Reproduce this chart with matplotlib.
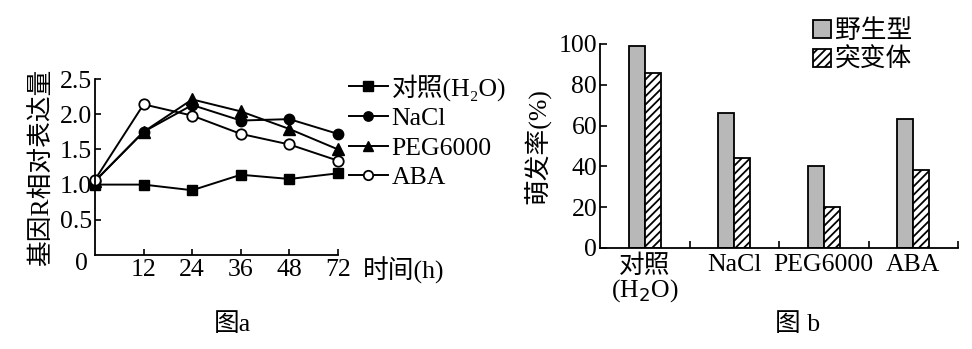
import matplotlib
matplotlib.use("Agg")
import matplotlib.pyplot as plt
import numpy as np

plt.rcParams['font.family'] = ['Liberation Serif', 'Noto Sans CJK SC']
plt.rcParams['hatch.linewidth'] = 1.3

# ---- data: panel a ----
time_labels = ['0', '12', '24', '36', '48', '72']
ctrl = [1.0, 1.0, 0.92, 1.14, 1.08, 1.16]
nacl = [1.05, 1.75, 2.13, 1.91, 1.93, 1.72]
peg = [1.05, 1.75, 2.21, 2.04, 1.79, 1.50]
aba = [1.07, 2.14, 1.98, 1.72, 1.57, 1.34]
series_names = ['对照(H₂O)', 'NaCl', 'PEG6000', 'ABA']

# ---- data: panel b ----
groups = ['对照\n(H$_2$O)', 'NaCl', 'PEG6000', 'ABA']
wild = [99, 66, 40, 63]
mutant = [86, 44, 20, 38]
bar_names = ['野生型', '突变体']

W, H = 972, 349
fig = plt.figure(figsize=(W / 100, H / 100), dpi=100)

def ax_at(l, r, t, b):
    return fig.add_axes([l / W, 1 - b / H, (r - l) / W, (b - t) / H])

fs = 18.5
# ---------- panel a ----------
axa = ax_at(95, 338, 79, 255)
x = np.arange(len(time_labels))
lw = 1.4
h1, = axa.plot(x, ctrl, '-', color='black', lw=lw, marker='s', ms=7.5, mfc='black', clip_on=False)
h2, = axa.plot(x, nacl, '-', color='black', lw=lw, marker='o', ms=7.5, mfc='black', clip_on=False)
h3, = axa.plot(x, peg, '-', color='black', lw=lw, marker='^', ms=8, mfc='black', clip_on=False)
h4, = axa.plot(x, aba, '-', color='black', lw=lw, marker='o', ms=7.5, mfc='white', mew=1.3, clip_on=False)
axa.set_xlim(0, 5)
axa.set_ylim(0, 2.5)
axa.set_xticks(x[1:])
axa.set_xticklabels(time_labels[1:], fontsize=fs)
axa.set_yticks([0.5, 1.0, 1.5, 2.0, 2.5])
axa.set_yticklabels(['0.5', '1.0', '1.5', '2.0', '2.5'], fontsize=fs)
axa.tick_params(direction='in', length=4, width=1.2, pad=2)
axa.tick_params(axis='x', pad=3)
for s in ['top', 'right']:
    axa.spines[s].set_visible(False)
for s in ['left', 'bottom']:
    axa.spines[s].set_linewidth(1.3)
axa.text(-0.03, -0.05, '0', transform=axa.transAxes, ha='right', va='center', fontsize=fs)
axa.set_ylabel('基因R相对表达量', fontsize=fs, labelpad=4)
axa.text(363 / W, 1 - 270 / H, '时间(h)', transform=fig.transFigure, ha='left', va='center', fontsize=fs)
fig.text(232 / W, 1 - 325 / H, '图a', ha='center', va='center', fontsize=fs)
leg = fig.legend([h1, h2, h3, h4], series_names, loc='upper left',
                 bbox_to_anchor=(331 / W, 1 - 56 / H), frameon=False, fontsize=fs,
                 handlelength=1.5, handletextpad=0.15, labelspacing=0.25, markerscale=0.9,
                 borderpad=0.2)

# ---------- panel b ----------
axb = ax_at(600, 958, 44, 248)
gx = np.arange(len(groups)) + 0.5
bw = 0.178
b1 = axb.bar(gx - bw / 2, wild, bw, color='#b8b8b8', edgecolor='black', lw=1.3)
b2 = axb.bar(gx + bw / 2, mutant, bw, color='white', edgecolor='black', lw=1.3, hatch='////')
axb.set_xlim(0, 4)
axb.set_ylim(0, 100)
axb.set_yticks([0, 20, 40, 60, 80, 100])
axb.set_yticklabels(['0', '20', '40', '60', '80', '100'], fontsize=fs)
axb.set_xticks([1, 2, 3, 4])
axb.set_xticklabels([])
axb.tick_params(direction='in', length=5, width=1.2, pad=2)
for s in ['top', 'right']:
    axb.spines[s].set_visible(False)
for s in ['left', 'bottom']:
    axb.spines[s].set_linewidth(1.3)
for gxi, lab in zip(gx, groups):
    axb.text(gxi, -0.03, lab, transform=axb.get_xaxis_transform(), ha='center', va='top',
             fontsize=fs, linespacing=1.0)
axb.set_ylabel('萌发率(%)', fontsize=fs, labelpad=6)
fig.text(798 / W, 1 - 325 / H, '图 b', ha='center', va='center', fontsize=fs)
fig.legend([b1, b2], bar_names, loc='upper left', bbox_to_anchor=(795 / W, 1 - 1 / H),
           frameon=False, fontsize=fs, handlelength=0.7, handleheight=0.7,
           handletextpad=0.15, labelspacing=0.2, borderpad=0.2)

fig.savefig('out.png', dpi=100)
